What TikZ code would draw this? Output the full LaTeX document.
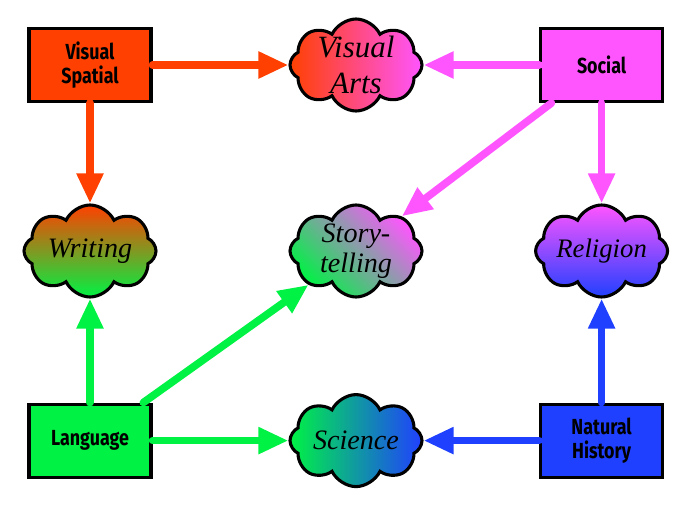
\documentclass[tikz,border=0pt]{standalone}
\usepackage{fontspec}
\usetikzlibrary{arrows.meta, shapes.symbols}
\newfontfamily\boxfont{Fira Sans}[FakeStretch=0.82]
\newfontfamily\topicfont{Liberation Serif}
\definecolor{cvis}{HTML}{FF4000}
\definecolor{csoc}{HTML}{FF55FF}
\definecolor{clang}{HTML}{00F244}
\definecolor{cnat}{HTML}{2040FF}

\begin{document}
\begin{tikzpicture}[
    area/.style={rectangle, draw=black, line width=2.2pt, minimum width=3.05cm,
        minimum height=1.825cm, align=center, font=\boxfont\bfseries\fontsize{15.5}{17}\selectfont},
    topic/.style={cloud, cloud puffs=8, cloud puff arc=130, aspect=1.5, draw=black,
        line width=2.2pt, minimum width=3.3cm, minimum height=2.3cm, align=center,
        inner xsep=-0.5cm, inner ysep=-0.3cm, font=\topicfont\itshape\fontsize{20}{21}\selectfont},
    arr/.style={-{Triangle[length=0.75cm, width=0.63cm]}, line width=0.19cm, line cap=round},
]
\useasboundingbox (0,0) rectangle (17.425,12.775);

% ============================================================ the four areas
\node[area, fill=cvis] (vis) at (2.25, 11.15) {Visual\\Spatial};
\node[area, fill=csoc] (soc) at (15.04, 11.15) {Social};
\node[area, fill=clang] (lang) at (2.25, 1.76) {Language};
\node[area, fill=cnat] (nat) at (15.04, 1.76) {Natural\\History};

% ============================================================ the five topics
\node[topic, left color=cvis, right color=csoc, font=\topicfont\itshape\fontsize{22}{26}\selectfont]
    (arts) at (8.9, 11.15) {Visual\\Arts};
\node[topic, top color=cvis, bottom color=clang] (writ) at (2.25, 6.5) {Writing};
\node[topic, top color=csoc, bottom color=clang, shading angle=-45]
    (story) at (8.9, 6.5) {Story-\\telling};
\node[topic, top color=csoc, bottom color=cnat, font=\topicfont\itshape\fontsize{19}{21}\selectfont]
    (relig) at (15.04, 6.5) {Religion};
\node[topic, left color=clang, right color=cnat] (sci) at (8.9, 1.76) {Science};

% ============================================================ the links
\draw[arr, cvis] (vis) -- (arts);
\draw[arr, cvis] (vis) -- (writ);
\draw[arr, csoc] (soc) -- (arts);
\draw[arr, csoc] (soc) -- (story);
\draw[arr, csoc] (soc) -- (relig);
\draw[arr, clang] (lang) -- (writ);
\draw[arr, clang] (lang) -- (story);
\draw[arr, clang] (lang) -- (sci);
\draw[arr, cnat] (nat) -- (relig);
\draw[arr, cnat] (nat) -- (sci);

\end{tikzpicture}
\end{document}
